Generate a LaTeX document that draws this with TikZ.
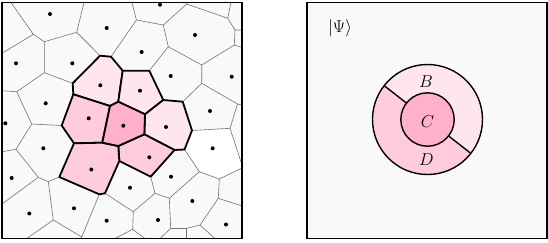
\documentclass[tikz,border=0pt]{standalone}
\definecolor{bggray}{RGB}{249,249,249}
\definecolor{pinkA}{RGB}{255,230,238}
\definecolor{pinkB}{RGB}{255,204,222}
\definecolor{pinkC}{RGB}{255,176,204}
\definecolor{edgegray}{RGB}{115,115,115}
\begin{document}
\begin{tikzpicture}[x=1pt,y=-1pt,
  thinedge/.style={draw=edgegray,line width=0.6pt,line join=round},
  cellline/.style={draw=black,line width=1.8pt,line join=round},
  frame/.style={draw=black,line width=1.8pt},
  ringline/.style={draw=black,line width=1.4pt},
  lbl/.style={font=\LARGE,inner sep=0pt}]
\useasboundingbox (0,0) rectangle (548,242);
% ---------------- left panel ----------------
\fill[bggray] (2,2.5) rectangle (242,238.5);
\begin{scope}
\clip (2,2.5) rectangle (242,238.5);
% white cell
\fill[white] (192,130.5) -- (230,128.3) -- (242,165) -- (242,168) -- (219.3,179) -- (199.3,171.7) -- (184.5,149.5) -- cycle;
% thin Voronoi edges
\draw[thinedge] (11,2.5) -- (33.3,34.3) -- (2,53.3);
\draw[thinedge] (33.3,34.3) -- (44.3,41.7) -- (76.7,32.3) -- (84,2.5);
\draw[thinedge] (76.7,32.3) -- (100,55.7);
\draw[thinedge] (44.3,41.7) -- (44.3,72.7) -- (72.7,83.3);
\draw[thinedge] (44.3,72.7) -- (16.7,91.7) -- (2,90.7);
\draw[thinedge] (16.7,91.7) -- (31.7,124) -- (61.7,125.5);
\draw[thinedge] (31.7,124) -- (16,149.3) -- (2,151.7);
\draw[thinedge] (16,149.3) -- (38.3,177.3) -- (48.3,181.7) -- (59.3,177);
\draw[thinedge] (38.3,177.3) -- (2,204);
\draw[thinedge] (48.3,181.7) -- (53.3,220) -- (26.7,238.5);
\draw[thinedge] (53.3,220) -- (81.7,237) -- (99.3,194.3);
\draw[thinedge] (81.7,237) -- (82,238.5);
\draw[thinedge] (105,193.3) -- (133.3,211.7) -- (155,193.3) -- (150.7,176.7);
\draw[thinedge] (133.3,211.7) -- (132.7,229.3) -- (115,238.5);
\draw[thinedge] (132.7,229.3) -- (145,238.5);
\draw[thinedge] (155,193.3) -- (169.3,198.3) -- (170.7,228.3) -- (160,238.5);
\draw[thinedge] (170.7,228.3) -- (186.7,228.3) -- (186.7,238.5);
\draw[thinedge] (186.7,228.3) -- (200,225) -- (215,238.5);
\draw[thinedge] (200,225) -- (218.3,198.3) -- (242,206);
\draw[thinedge] (218.3,198.3) -- (219.3,179) -- (242,168);
\draw[thinedge] (219.3,179) -- (199.3,171.7) -- (184.5,149.5);
\draw[thinedge] (199.3,171.7) -- (169.3,198.3);
\draw[thinedge] (192,130.5) -- (230,128.3) -- (242,165);
\draw[thinedge] (230,128.3) -- (237.5,104) -- (242,105);
\draw[thinedge] (237.5,104) -- (201.7,83.3) -- (182.7,101.7);
\draw[thinedge] (201.7,83.3) -- (201.7,65) -- (234.3,45) -- (242,47.5);
\draw[thinedge] (234.3,45) -- (235,30) -- (242,30);
\draw[thinedge] (235,30) -- (227.7,18.3) -- (231,2.5);
\draw[thinedge] (227.7,18.3) -- (186.7,4) -- (187,2.5);
\draw[thinedge] (186.7,4) -- (163.3,25);
\draw[thinedge] (163.3,25) -- (168.3,46.7) -- (201.7,65);
\draw[thinedge] (168.3,46.7) -- (149.3,70.7);
\draw[thinedge] (163.3,25) -- (136.4,20) -- (132,2.5);
\draw[thinedge] (136.4,20) -- (111,56.7);
% pink cells
\filldraw[fill=pinkA,cellline] (72.7,83.3) -- (100,55.7) -- (111,56.7) -- (122.7,70.7) -- (118.3,101.7) -- (110,106) -- (73.3,94.3) -- cycle;
\filldraw[fill=pinkA,cellline] (122.7,70.7) -- (149.3,70.7) -- (163.3,100) -- (145,114.3) -- (118.3,101.7) -- cycle;
\filldraw[fill=pinkA,cellline] (163.3,100) -- (182.7,101.7) -- (192,130.5) -- (184.5,149.5) -- (174.5,150) -- (144.3,134.3) -- (145,114.3) -- cycle;
\filldraw[fill=pinkB,cellline] (144.3,134.3) -- (174.5,150) -- (150.7,176.7) -- (119.3,161) -- (118.3,146) -- cycle;
\filldraw[fill=pinkB,cellline] (73.3,94.3) -- (110,106) -- (102.3,142.7) -- (74,143.3) -- (61.7,125.5) -- cycle;
\filldraw[fill=pinkB,cellline] (74,143.3) -- (102.3,142.7) -- (118.3,146) -- (119.3,161) -- (105,193.3) -- (99.3,194.3) -- (59.3,177) -- cycle;
\filldraw[fill=pinkC,cellline] (110,106) -- (118.3,101.7) -- (145,114.3) -- (144.3,134.3) -- (118.3,146) -- (102.3,142.7) -- cycle;
\end{scope}
% seeds
\foreach \p in {(50,14),(106.7,28),(160,4.7),(195,35),(16,63.3),(72.3,63.3),(141.7,52),(170.7,76),(231.7,76.7),(5.3,123.3),(45.7,103.3),(210,111),(43.3,148.3),(212.7,148.3),(11.7,178),(130,187.7),(171,176.7),(192.3,201),(29.3,213.5),(74,208.3),(106.7,220.7),(158,220),(226,224.5),(100.3,85.3),(140,90.7),(166,127),(149.3,157.3),(88.7,118.3),(91.3,169.5),(123.3,125.7)}
  \fill[black] \p circle[radius=2pt];
\draw[frame] (2,2.5) rectangle (242,238.5);
% ---------------- right panel ----------------
\fill[bggray] (307,2.5) rectangle (547,238.5);
\begin{scope}[shift={(427.5pt,-119.5pt)},x=1pt,y=1pt]
  \fill[pinkB] (0,0) circle[radius=55pt];
  \fill[pinkA] (142:55pt) arc[start angle=142,end angle=-38,radius=55pt] -- (-38:26.7pt) arc[start angle=-38,end angle=142,radius=26.7pt] -- cycle;
  \filldraw[fill=pinkC,ringline] (0,0) circle[radius=26.7pt];
  \draw[ringline] (0,0) circle[radius=55pt];
  \draw[ringline] (142:26.7pt) -- (142:55pt);
  \draw[ringline] (-38:26.7pt) -- (-38:55pt);
\end{scope}
\node[lbl] (psi) at (340,28) {$|\Psi\rangle$};
\node[lbl] (B) at (426,81.5) {$B$};
\node[lbl] (C) at (427.5,121.5) {$C$};
\node[lbl] (D) at (426.5,160) {$D$};
\draw[frame] (307,2.5) rectangle (547,238.5);
\end{tikzpicture}
\end{document}
